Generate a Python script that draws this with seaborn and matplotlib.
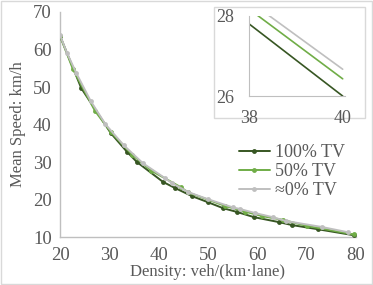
import pandas as pd
import matplotlib.pyplot as plt
import seaborn as sns
from matplotlib.patches import Rectangle

# values
tv100_density = [20, 24.3, 30.3, 33.6, 35.6, 40.9, 43.3, 46.8, 50.0, 53.1, 55.9, 59.4, 64.4, 67.1, 72.3, 79.6]
tv100_speed = [63.6, 49.7, 37.7, 32.7, 30.0, 24.7, 23.1, 20.9, 19.3, 17.7, 16.7, 15.3, 14.0, 13.2, 12.1, 10.5]

tv50_density = [20, 22.6, 27.1, 30.3, 34.6, 38.5, 44.5, 46.0, 53.5, 57.5, 61.0, 65.2, 70.0, 79.6]
tv50_speed = [63.6, 54.8, 43.6, 38.0, 32.0, 27.7, 23.3, 21.9, 18.3, 16.8, 15.6, 14.6, 13.0, 10.7]

tv0_density = [20, 21.4, 23.3, 26.2, 29.2, 32.9, 36.8, 41.3, 42.7, 46.0, 50.0, 55.1, 56.5, 59.6, 63.2, 65.8, 73.1, 78.4]
tv0_speed = [63.8, 59.1, 53.7, 46.3, 40.1, 34.5, 29.7, 25.7, 24.4, 22.0, 20.1, 17.9, 17.5, 16.4, 15.3, 14.3, 12.7, 11.3]

# zoomed window 38-40
inset_density = [38, 40]
inset_tv100 = [27.8, 26.0]
inset_tv50 = [28.17, 26.43]
inset_tv0 = [28.37, 26.67]

labels = ['100% TV', '50% TV', '≈0% TV']
colors = ['#375623', '#70AD47', '#BFBFBF']

df = pd.concat([
    pd.DataFrame({'Density': tv100_density, 'Speed': tv100_speed, 'Series': labels[0]}),
    pd.DataFrame({'Density': tv50_density, 'Speed': tv50_speed, 'Series': labels[1]}),
    pd.DataFrame({'Density': tv0_density, 'Speed': tv0_speed, 'Series': labels[2]}),
])
df_in = pd.concat([
    pd.DataFrame({'Density': inset_density, 'Speed': inset_tv100, 'Series': labels[0]}),
    pd.DataFrame({'Density': inset_density, 'Speed': inset_tv50, 'Series': labels[1]}),
    pd.DataFrame({'Density': inset_density, 'Speed': inset_tv0, 'Series': labels[2]}),
])

sns.set_style("white")
plt.rcParams['font.family'] = ['Liberation Serif', 'DejaVu Serif']
txt = '#595959'
spine = '#BFBFBF'

fig = plt.figure(figsize=(3.73, 2.85), dpi=100)
ax = fig.add_axes([0.161, 0.168, 0.793, 0.790])

sns.lineplot(data=df, x='Density', y='Speed', hue='Series', hue_order=labels,
             palette=colors, marker='o', markersize=3.5, markeredgewidth=0,
             linewidth=1.4, sort=False, estimator=None, ax=ax, zorder=3)

ax.set_xlim(20, 80)
ax.set_ylim(10, 70)
ax.set_xticks(range(20, 81, 10))
ax.set_yticks(range(10, 71, 10))
ax.set_xlabel('Density: veh/(km·lane)', fontsize=12, color=txt, labelpad=0)
ax.set_ylabel('Mean Speed: km/h', fontsize=12, color=txt, labelpad=5)
ax.tick_params(labelsize=13.5, colors=txt, length=0)
ax.tick_params(axis='x', pad=7)
ax.tick_params(axis='y', pad=6)
for s in ['top', 'right']:
    ax.spines[s].set_visible(False)
for s in ['left', 'bottom']:
    ax.spines[s].set_color(spine)
    ax.spines[s].set_linewidth(1)

leg = ax.legend(loc='lower right', bbox_to_anchor=(1.0, 0.12), frameon=False,
                fontsize=13, handlelength=1.7, handletextpad=0.3,
                labelspacing=0.12, borderaxespad=0.2)
for t in leg.get_texts():
    t.set_color(txt)

# inset box
fig.patches.append(Rectangle((0.574, 0.586), 0.405, 0.389, transform=fig.transFigure,
                             facecolor='white', edgecolor='#D9D9D9', linewidth=1, zorder=5))
axi = fig.add_axes([0.668, 0.663, 0.257, 0.281], zorder=6)
axi.patch.set_alpha(0)
sns.lineplot(data=df_in, x='Density', y='Speed', hue='Series', hue_order=labels,
             palette=colors, linewidth=1.2, estimator=None, legend=False, ax=axi)
axi.set_xlim(38, 40.05)
axi.set_ylim(26, 28)
axi.set_xticks([38, 40])
axi.set_yticks([26, 28])
axi.set_xlabel('')
axi.set_ylabel('')
axi.tick_params(labelsize=13, colors=txt, length=0)
axi.tick_params(axis='x', pad=10)
axi.tick_params(axis='y', pad=11)
for s in ['top', 'right']:
    axi.spines[s].set_visible(False)
for s in ['left', 'bottom']:
    axi.spines[s].set_color(spine)

# outer frame
fig.patches.append(Rectangle((0.002, 0.002), 0.996, 0.996, transform=fig.transFigure,
                             fill=False, edgecolor='#D9D9D9', linewidth=1))

fig.savefig('out.png', dpi=100)
